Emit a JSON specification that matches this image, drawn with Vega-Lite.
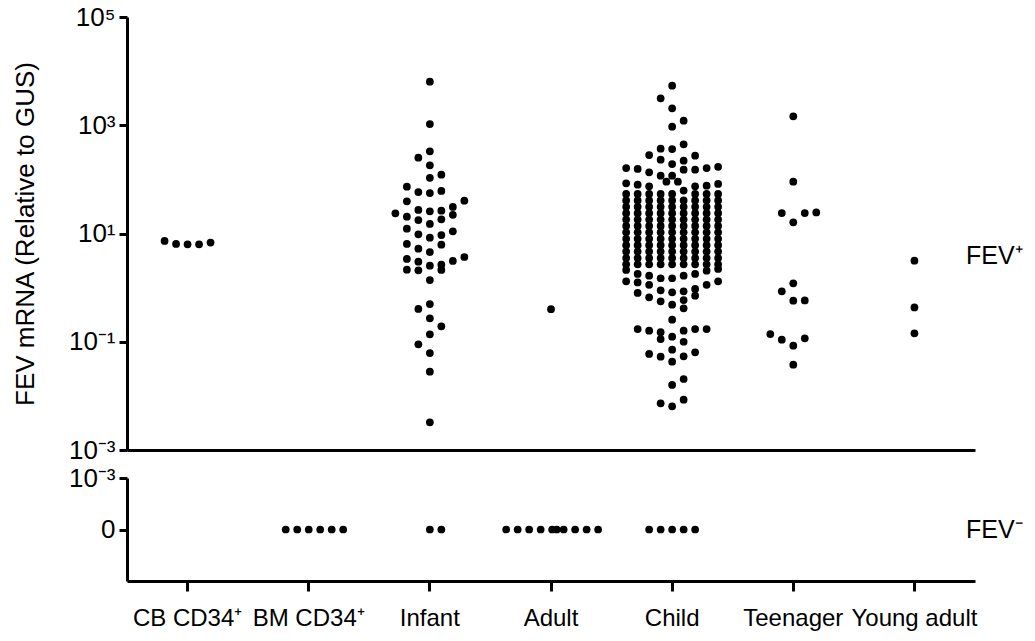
{
  "$schema": "https://vega.github.io/schema/vega-lite/v6.json",
  "background": "white",
  "padding": {"left": 12, "top": 4, "right": 5, "bottom": 5},
  "spacing": 28,
  "bounds": "flush",
  "config": {
    "view": {"stroke": null},
    "font": "Liberation Sans",
    "axis": {
      "domainColor": "black", "domainWidth": 3, "tickColor": "black", "tickWidth": 3,
      "labelColor": "black", "labelFont": "Liberation Sans", "labelFontSize": 26,
      "titleFont": "Liberation Sans", "titleFontSize": 26, "titleFontWeight": "normal", "titleColor": "black",
      "grid": false, "labelFlush": false, "labelOverlap": false, "labelBound": false
    }
  },
  "datasets": {
    "pos": [
      {"g":"CB CD34⁺","s":-2,"v":7.3},{"g":"CB CD34⁺","s":-1,"v":6.4},{"g":"CB CD34⁺","s":0,"v":6.3},{"g":"CB CD34⁺","s":1,"v":6.3},{"g":"CB CD34⁺","s":2,"v":6.8},
      {"g":"Adult","s":0,"v":0.40},
      {"g":"Young adult","s":0,"v":3.15},{"g":"Young adult","s":0,"v":0.43},{"g":"Young adult","s":0,"v":0.143},
      {"g":"Teenager","s":0,"v":1462},{"g":"Teenager","s":0,"v":90.6},{"g":"Teenager","s":-1,"v":23.9},{"g":"Teenager","s":1,"v":23.9},{"g":"Teenager","s":2,"v":24.5},{"g":"Teenager","s":0,"v":16.1},{"g":"Teenager","s":0,"v":1.2},{"g":"Teenager","s":-1,"v":0.855},{"g":"Teenager","s":0,"v":0.573},{"g":"Teenager","s":1,"v":0.58},{"g":"Teenager","s":-2,"v":0.139},{"g":"Teenager","s":-1,"v":0.109},{"g":"Teenager","s":0,"v":0.0845},{"g":"Teenager","s":1,"v":0.116},{"g":"Teenager","s":0,"v":0.0377},
      {"g":"Infant","s":0,"v":6380},{"g":"Infant","s":0,"v":1054},{"g":"Infant","s":0,"v":330},{"g":"Infant","s":-1,"v":251},{"g":"Infant","s":0,"v":182},{"g":"Infant","s":0,"v":107},{"g":"Infant","s":1,"v":122},{"g":"Infant","s":-2,"v":73.3},{"g":"Infant","s":-1,"v":58.4},{"g":"Infant","s":0,"v":56.0},{"g":"Infant","s":1,"v":61.0},{"g":"Infant","s":-2,"v":39.4},{"g":"Infant","s":3,"v":40.4},{"g":"Infant","s":2,"v":30.9},{"g":"Infant","s":-3,"v":23.6},{"g":"Infant","s":-2,"v":20.4},{"g":"Infant","s":-1,"v":27.2},{"g":"Infant","s":0,"v":25.7},{"g":"Infant","s":1,"v":26.4},{"g":"Infant","s":2,"v":22.2},{"g":"Infant","s":-1,"v":17.7},{"g":"Infant","s":0,"v":15.0},{"g":"Infant","s":1,"v":18.3},{"g":"Infant","s":-2,"v":12.3},{"g":"Infant","s":2,"v":11.0},{"g":"Infant","s":-1,"v":9.66},{"g":"Infant","s":0,"v":8.36},{"g":"Infant","s":1,"v":9.38},{"g":"Infant","s":-2,"v":6.40},{"g":"Infant","s":-1,"v":5.24},{"g":"Infant","s":1,"v":6.21},{"g":"Infant","s":0,"v":4.55},{"g":"Infant","s":-2,"v":3.38},{"g":"Infant","s":-1,"v":3.01},{"g":"Infant","s":0,"v":2.54},{"g":"Infant","s":1,"v":2.65},{"g":"Infant","s":2,"v":3.11},{"g":"Infant","s":3,"v":3.68},{"g":"Infant","s":-2,"v":2.14},{"g":"Infant","s":-1,"v":2.09},{"g":"Infant","s":1,"v":2.12},{"g":"Infant","s":0,"v":1.38},{"g":"Infant","s":0,"v":0.498},{"g":"Infant","s":-1,"v":0.403},{"g":"Infant","s":0,"v":0.271},{"g":"Infant","s":1,"v":0.193},{"g":"Infant","s":0,"v":0.137},{"g":"Infant","s":-1,"v":0.0897},{"g":"Infant","s":0,"v":0.0619},{"g":"Infant","s":0,"v":0.028},{"g":"Infant","s":0,"v":0.00325},
      {"g":"Child","s":0,"v":5383},{"g":"Child","s":-1,"v":3148},{"g":"Child","s":0,"v":2056},{"g":"Child","s":1,"v":1213},{"g":"Child","s":0,"v":940},{"g":"Child","s":1,"v":444},{"g":"Child","s":-1,"v":369},{"g":"Child","s":0,"v":364},{"g":"Child","s":-2,"v":282},{"g":"Child","s":2,"v":274},{"g":"Child","s":-1,"v":231},{"g":"Child","s":1,"v":221},{"g":"Child","s":0,"v":192},{"g":"Child","s":-4,"v":162},{"g":"Child","s":-3,"v":156},{"g":"Child","s":-2,"v":135},{"g":"Child","s":1,"v":151},{"g":"Child","s":2,"v":151},{"g":"Child","s":3,"v":162},{"g":"Child","s":4,"v":171},{"g":"Child","s":-1,"v":117},{"g":"Child","s":0,"v":117},{"g":"Child","s":-0.5,"v":90.6},{"g":"Child","s":0.5,"v":90.6},{"g":"Child","s":-4,"v":84.6},{"g":"Child","s":-3,"v":79.7},{"g":"Child","s":-2,"v":74.5},{"g":"Child","s":1,"v":62},{"g":"Child","s":2,"v":74.5},{"g":"Child","s":3,"v":76.4},{"g":"Child","s":4,"v":82.2},
      {"g":"Child","s":-4,"v":53.7},{"g":"Child","s":-3,"v":53.7},{"g":"Child","s":-2,"v":53.7},{"g":"Child","s":-1,"v":53.7},{"g":"Child","s":0,"v":53.7},{"g":"Child","s":2,"v":53.7},{"g":"Child","s":3,"v":53.7},{"g":"Child","s":4,"v":53.7},
      {"g":"Child","s":-4,"v":40.9},{"g":"Child","s":-3,"v":40.9},{"g":"Child","s":-2,"v":40.9},{"g":"Child","s":-1,"v":40.9},{"g":"Child","s":0,"v":40.9},{"g":"Child","s":1,"v":40.9},{"g":"Child","s":2,"v":40.9},{"g":"Child","s":3,"v":40.9},{"g":"Child","s":4,"v":40.9},
      {"g":"Child","s":-4,"v":31.1},{"g":"Child","s":-3,"v":31.1},{"g":"Child","s":-2,"v":31.1},{"g":"Child","s":-1,"v":31.1},{"g":"Child","s":0,"v":31.1},{"g":"Child","s":1,"v":31.1},{"g":"Child","s":2,"v":31.1},{"g":"Child","s":3,"v":31.1},{"g":"Child","s":4,"v":31.1},
      {"g":"Child","s":-4,"v":23.7},{"g":"Child","s":-3,"v":23.7},{"g":"Child","s":-2,"v":23.7},{"g":"Child","s":-1,"v":23.7},{"g":"Child","s":0,"v":23.7},{"g":"Child","s":1,"v":23.7},{"g":"Child","s":2,"v":23.7},{"g":"Child","s":3,"v":23.7},{"g":"Child","s":4,"v":23.7},
      {"g":"Child","s":-4,"v":18.1},{"g":"Child","s":-3,"v":18.1},{"g":"Child","s":-2,"v":18.1},{"g":"Child","s":-1,"v":18.1},{"g":"Child","s":0,"v":18.1},{"g":"Child","s":1,"v":18.1},{"g":"Child","s":2,"v":18.1},{"g":"Child","s":3,"v":18.1},{"g":"Child","s":4,"v":18.1},
      {"g":"Child","s":-4,"v":13.8},{"g":"Child","s":-3,"v":13.8},{"g":"Child","s":-2,"v":13.8},{"g":"Child","s":-1,"v":13.8},{"g":"Child","s":0,"v":13.8},{"g":"Child","s":1,"v":13.8},{"g":"Child","s":2,"v":13.8},{"g":"Child","s":3,"v":13.8},{"g":"Child","s":4,"v":13.8},
      {"g":"Child","s":-4,"v":10.5},{"g":"Child","s":-3,"v":10.5},{"g":"Child","s":-2,"v":10.5},{"g":"Child","s":-1,"v":10.5},{"g":"Child","s":0,"v":10.5},{"g":"Child","s":1,"v":10.5},{"g":"Child","s":2,"v":10.5},{"g":"Child","s":3,"v":10.5},{"g":"Child","s":4,"v":10.5},
      {"g":"Child","s":-4,"v":7.98},{"g":"Child","s":-3,"v":7.98},{"g":"Child","s":-2,"v":7.98},{"g":"Child","s":-1,"v":7.98},{"g":"Child","s":0,"v":7.98},{"g":"Child","s":1,"v":7.98},{"g":"Child","s":2,"v":7.98},{"g":"Child","s":3,"v":7.98},{"g":"Child","s":4,"v":7.98},
      {"g":"Child","s":-4,"v":6.08},{"g":"Child","s":-3,"v":6.08},{"g":"Child","s":-2,"v":6.08},{"g":"Child","s":-1,"v":6.08},{"g":"Child","s":0,"v":6.08},{"g":"Child","s":1,"v":6.08},{"g":"Child","s":2,"v":6.08},{"g":"Child","s":3,"v":6.08},{"g":"Child","s":4,"v":6.08},
      {"g":"Child","s":-4,"v":4.63},{"g":"Child","s":-3,"v":4.63},{"g":"Child","s":-2,"v":4.63},{"g":"Child","s":-1,"v":4.63},{"g":"Child","s":0,"v":4.63},{"g":"Child","s":1,"v":4.63},{"g":"Child","s":2,"v":4.63},{"g":"Child","s":3,"v":4.63},{"g":"Child","s":4,"v":4.63},
      {"g":"Child","s":-4,"v":3.52},{"g":"Child","s":-3,"v":3.52},{"g":"Child","s":-2,"v":3.52},{"g":"Child","s":-1,"v":3.52},{"g":"Child","s":0,"v":3.52},{"g":"Child","s":1,"v":3.52},{"g":"Child","s":2,"v":3.52},{"g":"Child","s":3,"v":3.52},{"g":"Child","s":4,"v":3.52},
      {"g":"Child","s":-4,"v":2.69},{"g":"Child","s":-3,"v":2.69},{"g":"Child","s":-2,"v":2.69},{"g":"Child","s":-1,"v":2.69},{"g":"Child","s":0,"v":2.69},{"g":"Child","s":1,"v":2.69},{"g":"Child","s":2,"v":2.69},{"g":"Child","s":3,"v":2.69},{"g":"Child","s":4,"v":2.69},
      {"g":"Child","s":-4,"v":2.12},{"g":"Child","s":4,"v":2.21},{"g":"Child","s":-3,"v":1.79},{"g":"Child","s":-2,"v":1.66},{"g":"Child","s":-1,"v":1.49},{"g":"Child","s":0,"v":1.49},{"g":"Child","s":1,"v":1.66},{"g":"Child","s":2,"v":1.79},{"g":"Child","s":3,"v":2.06},{"g":"Child","s":-4,"v":1.31},{"g":"Child","s":-3,"v":1.25},{"g":"Child","s":-2,"v":1.13},{"g":"Child","s":4,"v":1.31},{"g":"Child","s":3,"v":1.13},
      {"g":"Child","s":-3,"v":0.796},{"g":"Child","s":-1,"v":0.893},{"g":"Child","s":0,"v":0.820},{"g":"Child","s":1,"v":0.855},{"g":"Child","s":2,"v":0.944},{"g":"Child","s":2,"v":0.710},{"g":"Child","s":-2,"v":0.662},{"g":"Child","s":-1,"v":0.558},{"g":"Child","s":0,"v":0.484},{"g":"Child","s":1,"v":0.590},{"g":"Child","s":1,"v":0.415},{"g":"Child","s":0,"v":0.255},
      {"g":"Child","s":-3,"v":0.172},{"g":"Child","s":-2,"v":0.160},{"g":"Child","s":-1,"v":0.150},{"g":"Child","s":-1,"v":0.112},{"g":"Child","s":0,"v":0.124},{"g":"Child","s":1,"v":0.160},{"g":"Child","s":2,"v":0.172},{"g":"Child","s":3,"v":0.172},{"g":"Child","s":1,"v":0.100},
      {"g":"Child","s":-2,"v":0.0594},{"g":"Child","s":-1,"v":0.0530},{"g":"Child","s":0,"v":0.0713},{"g":"Child","s":0,"v":0.0428},{"g":"Child","s":1,"v":0.0538},{"g":"Child","s":2,"v":0.0638},{"g":"Child","s":0,"v":0.0159},{"g":"Child","s":1,"v":0.0205},{"g":"Child","s":-1,"v":0.00729},{"g":"Child","s":0,"v":0.00641},{"g":"Child","s":1,"v":0.00849}
    ],
    "neg": [
      {"g":"BM CD34⁺","s":-2,"v":0},{"g":"BM CD34⁺","s":-1,"v":0},{"g":"BM CD34⁺","s":0,"v":0},{"g":"BM CD34⁺","s":1,"v":0},{"g":"BM CD34⁺","s":2,"v":0},{"g":"BM CD34⁺","s":3,"v":0},
      {"g":"Infant","s":0,"v":0},{"g":"Infant","s":1,"v":0},
      {"g":"Adult","s":-3.9,"v":0},{"g":"Adult","s":-2.9,"v":0},{"g":"Adult","s":-1.9,"v":0},{"g":"Adult","s":-0.9,"v":0},{"g":"Adult","s":0.1,"v":0},{"g":"Adult","s":0.5,"v":0},{"g":"Adult","s":1.1,"v":0},{"g":"Adult","s":2.1,"v":0},{"g":"Adult","s":3.1,"v":0},{"g":"Adult","s":4.1,"v":0},
      {"g":"Child","s":-2,"v":0},{"g":"Child","s":-1,"v":0},{"g":"Child","s":0,"v":0},{"g":"Child","s":1,"v":0},{"g":"Child","s":2,"v":0}
    ],
    "labPos": [{"lab":"FEV⁺","v":3.9}],
    "labNeg": [{"lab":"FEV⁻","v":0}]
  },
  "vconcat": [
    {
      "width": 848, "height": 433,
      "layer": [
        {
          "data": {"name": "pos"},
          "mark": {"type": "circle", "size": 60, "color": "black", "opacity": 1},
          "encoding": {
            "x": {"field": "g", "type": "nominal",
                  "scale": {"domain": ["CB CD34⁺","BM CD34⁺","Infant","Adult","Child","Teenager","Young adult"], "paddingInner": 0, "paddingOuter": 0},
                  "axis": {"labels": false, "ticks": false, "title": null, "domain": true}},
            "xOffset": {"field": "s", "type": "quantitative", "scale": {"domain": [-5.27, 5.27]}},
            "y": {"field": "v", "type": "quantitative",
                  "scale": {"type": "log", "domain": [0.001, 100000]},
                  "axis": {"values": [0.001, 0.1, 10, 1000, 100000], "tickSize": 8, "labelPadding": 4, "titlePadding": 30,
                           "title": "FEV mRNA (Relative to GUS)",
                           "labelExpr": "datum.value >= 100000 ? '10⁵' : datum.value >= 1000 ? '10³' : datum.value >= 10 ? '10¹' : datum.value >= 0.1 ? '10⁻¹' : '10⁻³'"}}
          }
        },
        {
          "data": {"name": "labPos"},
          "mark": {"type": "text", "align": "left", "baseline": "middle", "fontSize": 25, "dx": -9, "color": "black", "font": "Liberation Sans"},
          "encoding": {
            "x": {"value": "width"},
            "y": {"field": "v", "type": "quantitative"},
            "text": {"field": "lab"}
          }
        }
      ]
    },
    {
      "width": 848, "height": 103,
      "layer": [
        {
          "data": {"name": "neg"},
          "mark": {"type": "circle", "size": 60, "color": "black", "opacity": 1},
          "encoding": {
            "x": {"field": "g", "type": "nominal",
                  "scale": {"domain": ["CB CD34⁺","BM CD34⁺","Infant","Adult","Child","Teenager","Young adult"], "paddingInner": 0, "paddingOuter": 0},
                  "axis": {"title": null, "tickSize": 10, "labelPadding": 15, "labelAngle": 0, "labelFontSize": 24}},
            "xOffset": {"field": "s", "type": "quantitative", "scale": {"domain": [-5.27, 5.27]}},
            "y": {"field": "v", "type": "quantitative",
                  "scale": {"domain": [-1, 1], "nice": false, "zero": false},
                  "axis": {"values": [0, 1], "tickSize": 8, "labelPadding": 4, "title": null,
                           "labelExpr": "datum.value == 1 ? '10⁻³' : '0'"}}
          }
        },
        {
          "data": {"name": "labNeg"},
          "mark": {"type": "text", "align": "left", "baseline": "middle", "fontSize": 25, "dx": -9, "color": "black", "font": "Liberation Sans"},
          "encoding": {
            "x": {"value": "width"},
            "y": {"field": "v", "type": "quantitative"},
            "text": {"field": "lab"}
          }
        }
      ]
    }
  ]
}
